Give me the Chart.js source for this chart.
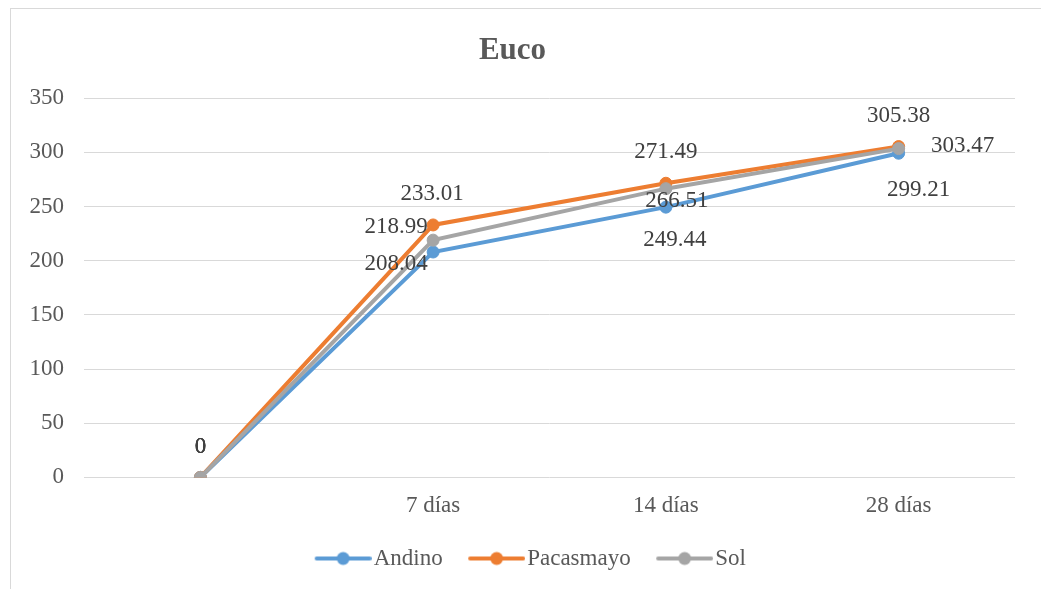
<!DOCTYPE html>
<html>
<head>
<meta charset="utf-8">
<script src="https://cdn.jsdelivr.net/npm/chart.js@4.4.1/dist/chart.umd.min.js"></script>
<style>
  html, body { margin: 0; padding: 0; background: #ffffff; }
  #wrap { width: 1041px; height: 589px; }
</style>
</head>
<body>
<div id="wrap"><canvas id="lineChart" width="1041" height="589"></canvas></div>
<script>
const categorias = ["", "7 días", "14 días", "28 días"];
const andino = [0, 208.04, 249.44, 299.21];
const pacasmayo = [0, 233.01, 271.49, 305.38];
const sol = [0, 218.99, 266.51, 303.47];
const yTicks = [0, 50, 100, 150, 200, 250, 300, 350];

// donde va cada etiqueta respecto al punto (como en el Excel, movidas a mano)
const offsetsEtiquetas = [
  [[0, -30], [-37, 12], [9, 33], [20, 37]],
  [[0, -30], [-1, -31], [0, -31], [0, -31]],
  [[0, -30], [-37, -13], [11, 12], [64, -3]],
];

const serif = "'Liberation Serif', 'Times New Roman', serif";

// icono de leyenda: linea con circulo (con margen transparente a la izquierda)
const iconoLeyenda = (color) => {
  const c = document.createElement("canvas");
  c.width = 70;
  c.height = 16;
  const ctx = c.getContext("2d");
  ctx.strokeStyle = color;
  ctx.lineWidth = 4;
  ctx.lineCap = "round";
  ctx.beginPath();
  ctx.moveTo(15, 8);
  ctx.lineTo(68, 8);
  ctx.stroke();
  ctx.fillStyle = color;
  ctx.beginPath();
  ctx.arc(41.5, 8, 6.5, 0, Math.PI * 2);
  ctx.fill();
  return c;
};

const colores = ["#5B9BD5", "#ED7D31", "#A5A5A5"];
const iconos = colores.map(iconoLeyenda);

const marco = {
  id: "marco",
  beforeDraw(chart) {
    const ctx = chart.ctx;
    ctx.save();
    ctx.fillStyle = "#ffffff";
    ctx.fillRect(0, 0, chart.width, chart.height);
    ctx.strokeStyle = "#d9d9d9";
    ctx.lineWidth = 1;
    ctx.strokeRect(10.5, 8.5, chart.width, chart.height);
    ctx.restore();
  },
  afterLayout(chart) {
    // la leyenda del original esta algo corrida a la derecha
    chart.legend.left += 16;
    chart.legend.right += 16;
  },
};

const etiquetas = {
  id: "etiquetas",
  afterDatasetsDraw(chart) {
    const ctx = chart.ctx;
    ctx.save();
    ctx.font = "23px " + serif;
    ctx.fillStyle = "#404040";
    ctx.textAlign = "center";
    ctx.textBaseline = "middle";
    chart.data.datasets.forEach((ds, i) => {
      const meta = chart.getDatasetMeta(i);
      meta.data.forEach((pt, j) => {
        const off = offsetsEtiquetas[i][j];
        ctx.fillText(String(ds.data[j]), pt.x + off[0], pt.y + off[1]);
      });
    });
    ctx.restore();
  },
};

const serie = (label, data, color, order) => ({
  label: label,
  data: data,
  borderColor: color,
  backgroundColor: color,
  borderWidth: 4,
  pointStyle: "circle",
  pointRadius: 6,
  pointHoverRadius: 6,
  pointBorderWidth: 1,
  tension: 0,
  order: order,
});

const ctx = document.getElementById("lineChart");

const grafico = new Chart(ctx, {
  type: "line",
  data: {
    labels: categorias,
    datasets: [
      serie("Andino", andino, colores[0], 3),
      serie("Pacasmayo", pacasmayo, colores[1], 2),
      serie("Sol", sol, colores[2], 1),
    ],
  },
  options: {
    responsive: false,
    animation: false,
    layout: { padding: { left: 10, right: 26, top: 10, bottom: 9 } },
    plugins: {
      title: {
        display: true,
        text: "Euco",
        color: "#595959",
        font: { family: serif, size: 31, weight: "bold" },
        padding: { top: 22, bottom: 29 },
      },
      legend: {
        position: "bottom",
        labels: {
          usePointStyle: true,
          pointStyleWidth: 51,
          color: "#595959",
          font: { family: serif, size: 23 },
          padding: 22,
          sort: (a, b) => a.datasetIndex - b.datasetIndex,
          generateLabels: (chart) => {
            const items = Chart.defaults.plugins.legend.labels.generateLabels(chart);
            items.forEach((it) => {
              it.pointStyle = iconos[it.datasetIndex];
            });
            return items;
          },
        },
      },
      tooltip: { enabled: false },
    },
    scales: {
      x: {
        offset: true,
        grid: { display: false },
        border: { display: false },
        ticks: {
          color: "#595959",
          font: { family: serif, size: 23 },
          padding: 7,
        },
        afterFit: (scale) => {
          scale.height = scale.height - 2;
        },
      },
      y: {
        min: 0,
        max: 350,
        afterBuildTicks: (scale) => {
          scale.ticks = yTicks.map((v) => ({ value: v }));
        },
        afterFit: (scale) => {
          scale.width = 74;
        },
        grid: { color: "#d9d9d9", lineWidth: 1, drawTicks: false },
        border: { display: false },
        ticks: {
          color: "#595959",
          font: { family: serif, size: 23 },
          padding: 20,
        },
      },
    },
  },
  plugins: [marco, etiquetas],
});
</script>
</body>
</html>
